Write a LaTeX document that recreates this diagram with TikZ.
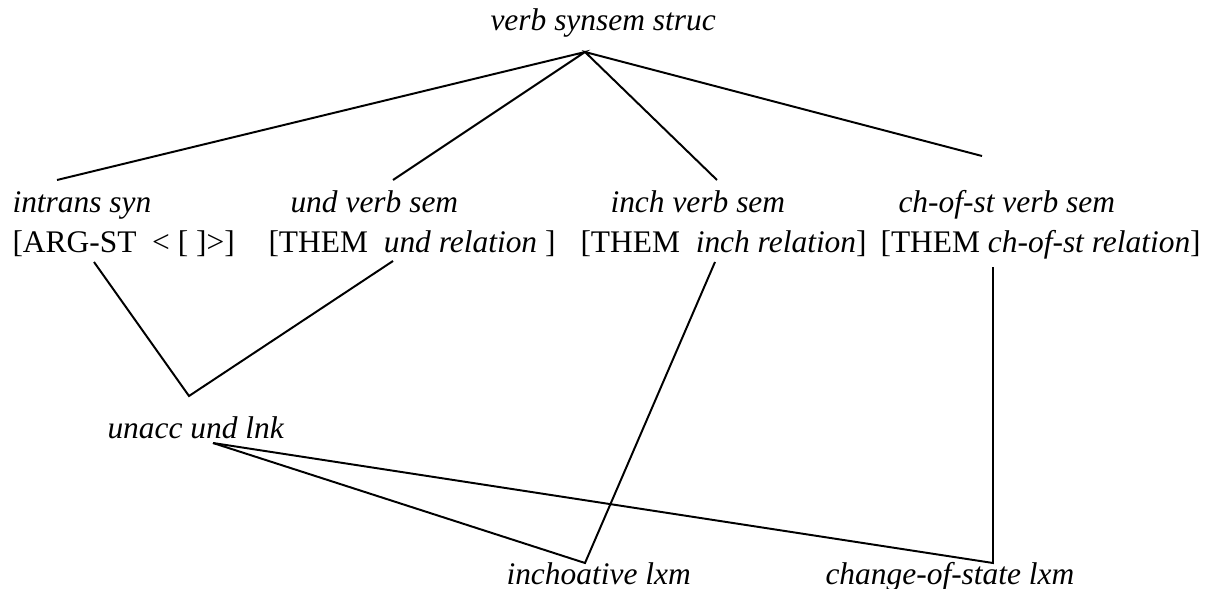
\documentclass[tikz,border=0pt]{standalone}
\usepackage{fontspec}
\setmainfont{Liberation Serif}
\usetikzlibrary{positioning}

\begin{document}
\begin{tikzpicture}[x=0.3817pt,y=-0.3817pt,
  type/.style={inner sep=0pt,anchor=base west,font=\fontsize{12}{14}\selectfont\itshape},
  avm/.style={inner sep=0pt,anchor=base west,font=\fontsize{12}{14}\selectfont},
  link/.style={line width=0.75pt}]
  \useasboundingbox (0,0) rectangle (1207,589);
  % type hierarchy
  \node[type] (vss) at (490,31) {verb synsem struc};
  \node[type] (intr) at (12,213) {intrans syn};
  \node[type] (undsem) at (290,213) {und verb sem};
  \node[type] (inchsem) at (610,213) {inch verb sem};
  \node[type] (chsem) at (898,213) {ch-of-st verb sem};
  \node[avm] (intravm) at (12,252) {[ARG-ST\ \ <\ [\ ]>]};
  \node[avm] (undavm) at (268,252) {[THEM\ \ \textit{und relation}\ ]};
  \node[avm] (inchavm) at (580,252) {[THEM\ \ \textit{inch relation}]};
  \node[avm] (chavm) at (880,252) {[THEM \textit{ch-of-st relation}]};
  \node[type] (unacc) at (107,438) {unacc und lnk};
  \node[type] (inchlxm) at (506,584) {inchoative lxm};
  \node[type] (chlxm) at (825,584) {change-of-state lxm};
  % line ends
  \coordinate (vss-b) at (585,52);
  \coordinate (intr-t) at (57,180);
  \coordinate (undsem-t) at (393,180);
  \coordinate (inchsem-t) at (717,180);
  \coordinate (chsem-t) at (982,156);
  \coordinate (intravm-b) at (94,262);
  \coordinate (undavm-b) at (393,261);
  \coordinate (inchavm-b) at (715,262);
  \coordinate (chavm-b) at (993,267);
  \coordinate (unacc-t) at (189,396);
  \coordinate (unacc-b) at (213,443);
  \coordinate (inchlxm-t) at (585,563);
  \coordinate (chlxm-t) at (993,563);
  % links
  \draw[link] (intr-t) -- (vss-b) -- (undsem-t);
  \draw[link] (inchsem-t) -- (vss-b) -- (chsem-t);
  \draw[link] (intravm-b) -- (unacc-t) -- (undavm-b);
  \draw[link] (unacc-b) -- (inchlxm-t) -- (inchavm-b);
  \draw[link] (unacc-b) -- (chlxm-t) -- (chavm-b);
\end{tikzpicture}
\end{document}
